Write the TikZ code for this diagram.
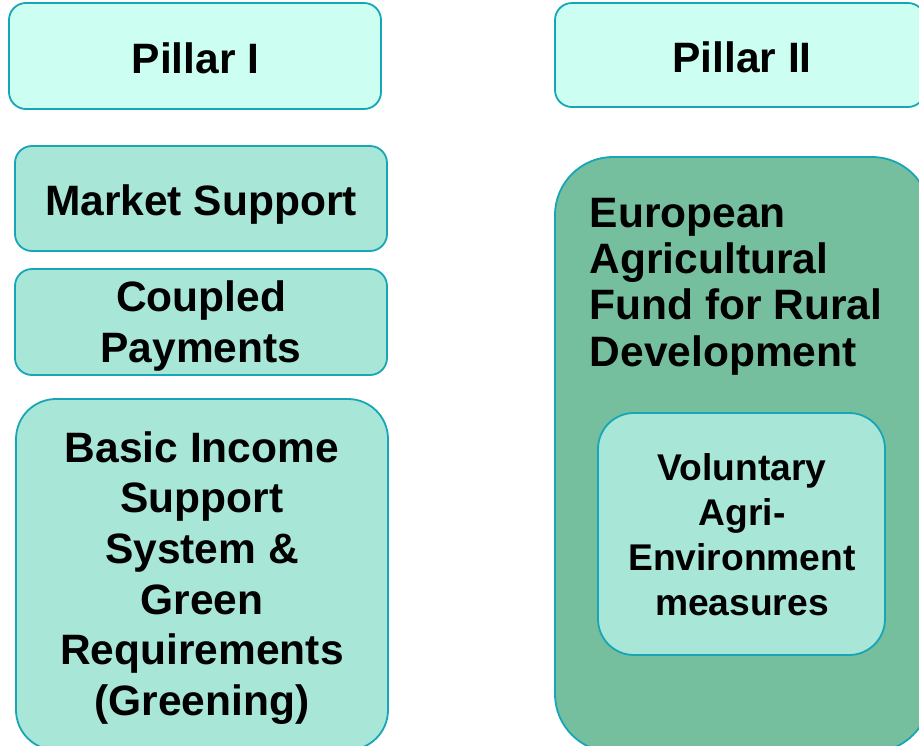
\documentclass[tikz,border=0pt]{standalone}
\usepackage{fontspec}
\setmainfont{Liberation Sans}
\definecolor{lightmint}{RGB}{204,255,242}
\definecolor{midmint}{RGB}{168,230,216}
\definecolor{darkgreen}{RGB}{117,190,158}
\definecolor{tealline}{RGB}{24,166,182}
\tikzset{
  boxbase/.style={draw=tealline, line width=1.8pt, inner sep=0pt},
  pillarbox/.style={boxbase, fill=lightmint, rounded corners=17pt},
  itembox/.style={boxbase, fill=midmint, rounded corners=17pt},
  bigbox/.style={boxbase, fill=midmint, rounded corners=40pt},
  fundbox/.style={boxbase, fill=darkgreen, rounded corners=58pt},
  bigtxt/.style={inner sep=0pt, align=center, font=\bfseries\fontsize{42.5}{50.7}\selectfont},
  fundtxt/.style={inner sep=0pt, align=left, font=\bfseries\fontsize{42.5}{46.3}\selectfont},
  voltxt/.style={inner sep=0pt, align=center, font=\bfseries\fontsize{37.2}{44.7}\selectfont}
}
\begin{document}
\begin{tikzpicture}[x=1pt,y=-1pt]
\useasboundingbox (0,0) rectangle (919,745);
\clip (0,0) rectangle (919,745);
\fill[white] (0,0) rectangle (919,745);
% Pillar headers
\node[pillarbox, minimum width=372pt, minimum height=106pt] (p1) at (195,56) {};
\node[pillarbox, minimum width=370pt, minimum height=104pt] (p2) at (740,55) {};
\node[bigtxt, anchor=base] (p1t) at (195.5,73) {Pillar I};
\node[bigtxt, anchor=base] (p2t) at (742,72) {Pillar II};
% Pillar I items
\node[itembox, minimum width=372pt, minimum height=105pt] (ms) at (201,198.5) {};
\node[bigtxt, anchor=base] (mst) at (201,215) {Market Support};
\node[itembox, minimum width=372pt, minimum height=106pt] (cp) at (201,322) {};
\node[bigtxt, anchor=base] (cpt) at (201,362) {Coupled\\Payments};
\node[bigbox, minimum width=372pt, minimum height=351pt] (bis) at (202,574.5) {};
\node[bigtxt, anchor=base] (bist) at (202,715.5) {Basic Income\\Support\\System \&\\Green\\Requirements\\(Greening)};
% Pillar II fund
\node[fundbox, minimum width=375pt, minimum height=595pt] (eaf) at (742.5,454.5) {};
\node[fundtxt, anchor=base west] (eaft) at (589.5,366) {European\\Agricultural\\Fund for Rural\\Development};
\node[bigbox, minimum width=287pt, minimum height=242pt, rounded corners=36pt] (vae) at (741.5,534) {};
\node[voltxt, anchor=base] (vaet) at (742,615) {Voluntary\\Agri-\\Environment\\measures};
\end{tikzpicture}
\end{document}
